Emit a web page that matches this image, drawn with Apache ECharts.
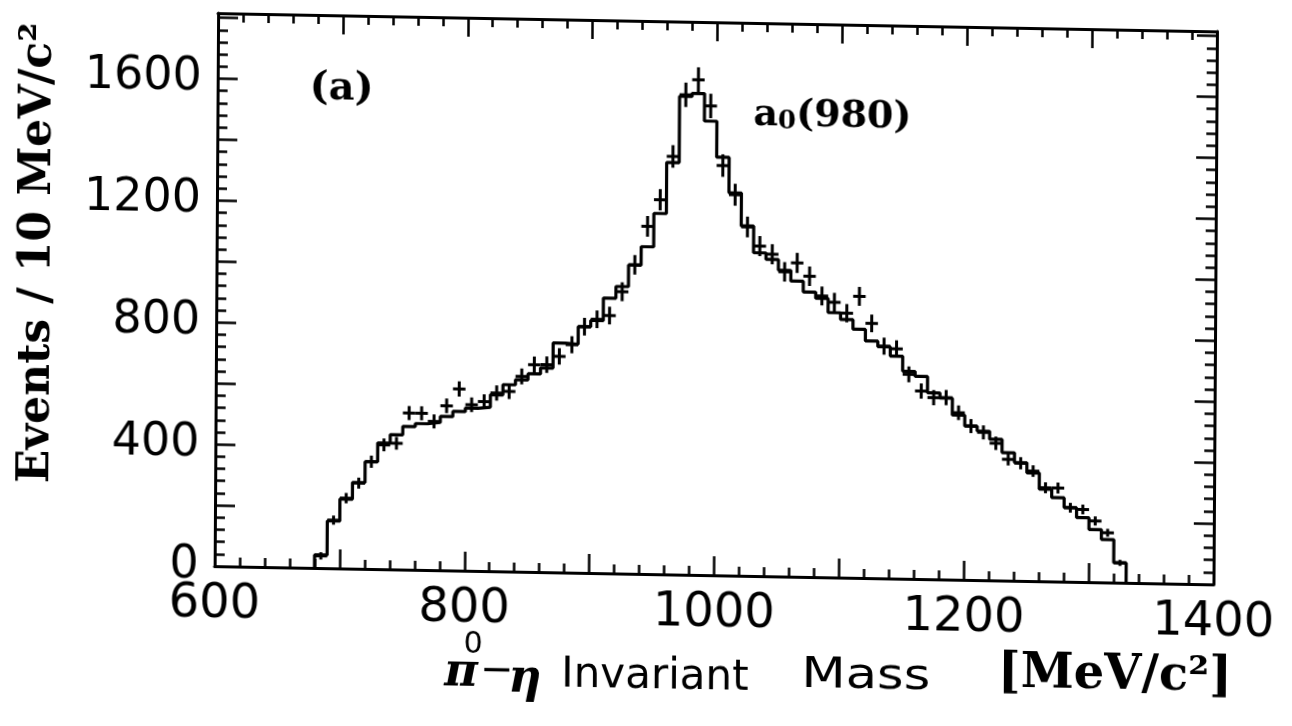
<!DOCTYPE html>
<html>
<head>
<meta charset="utf-8">
<script src="https://cdn.jsdelivr.net/npm/echarts@6/dist/echarts.min.js"></script>
<style>
html,body{margin:0;padding:0;background:#fff;}
#chart{width:1292px;height:726px;transform:matrix(1,0.0183,-0.0063,1,0,0);transform-origin:646px 363px;}
</style>
</head>
<body>
<div id="chart"></div>
<script>
// ---- data ----
const binLowEdges = [680,690,700,710,720,730,740,750,760,770,780,790,800,810,820,830,840,850,860,870,880,890,900,910,920,930,940,950,960,970,980,990,1000,1010,1020,1030,1040,1050,1060,1070,1080,1090,1100,1110,1120,1130,1140,1150,1160,1170,1180,1190,1200,1210,1220,1230,1240,1250,1260,1270,1280,1290,1300,1310,1320];
const binWidth = 10;
const fitCounts = [43,155,228,283,352,414,442,470,480,485,505,522,534,538,579,613,630,650,670,753,750,808,829,903,942,1013,1074,1184,1352,1570,1580,1490,1372,1256,1148,1061,1040,1005,970,935,915,869,847,816,778,760,730,681,665,612,595,540,505,489,463,420,388,355,302,275,243,211,173,141,65];
const dataCounts = [40,158,231,281,352,408,414,514,514,488,540,596,545,556,585,591,641,680,681,709,748,808,833,846,925,1014,1141,1229,1372,1575,1625,1540,1345,1250,1145,1083,1057,1000,1030,987,923,903,868,924,836,762,754,671,617,596,597,548,505,485,450,398,386,361,307,307,243,238,201,163,65];
const dataErrors = [12,15,17,18,20,21,21,23,23,23,24,25,24,24,25,25,26,27,27,27,28,29,29,29,31,32,34,35,37,40,41,40,37,36,34,33,33,32,33,32,31,31,30,31,29,28,28,26,25,25,25,24,23,23,22,20,20,19,18,18,16,16,15,13,10];
const xTickLabels = [600,800,1000,1200,1400];
const yTickLabels = [0,400,800,1200,1600];

// ---- build series data ----
const histData = [[binLowEdges[0], 0]];
binLowEdges.forEach((e, i) => histData.push([e, fitCounts[i]]));
histData.push([binLowEdges[binLowEdges.length - 1] + binWidth, 0]);
const crossData = binLowEdges.map((e, i) => [e, dataCounts[i], dataErrors[i]]);

const chart = echarts.init(document.getElementById('chart'), null, {renderer: 'canvas'});
const black = '#000';
const tickFont = '"DejaVu Sans", sans-serif';
const serif = '"DejaVu Serif", serif';

function xAxisCfg(pos, labels) {
  return {
    type: 'value', position: pos, min: 600, max: 1400, interval: 100,
    axisLine: {show: true, onZero: false, lineStyle: {color: black, width: 3}},
    axisTick: {show: true, inside: true, length: 19, lineStyle: {color: black, width: 2.5}},
    minorTick: {show: true, splitNumber: 5, length: 9, lineStyle: {color: black, width: 2.5}},
    splitLine: {show: false}, minorSplitLine: {show: false},
    axisLabel: {show: labels, margin: 15, color: black, fontFamily: tickFont, fontSize: 48,
      formatter: v => xTickLabels.includes(v) ? String(v) : ''}
  };
}
function yAxisCfg(pos, labels, interval, len, showLine) {
  return {
    type: 'value', position: pos, offset: 0, min: 0, max: 1815, interval: interval,
    axisLine: {show: showLine, onZero: false, lineStyle: {color: black, width: 3}},
    axisTick: {show: true, inside: true, length: len, lineStyle: {color: black, width: 2.5}},
    splitLine: {show: false},
    axisLabel: {show: labels, margin: 16, color: black, fontFamily: tickFont, fontSize: 46,
      formatter: v => yTickLabels.includes(v) ? String(v) : ''}
  };
}

const option = {
  backgroundColor: '#fff',
  animation: false,
  grid: {left: 216, right: 77, top: 21, bottom: 152, containLabel: false},
  xAxis: [xAxisCfg('bottom', true), xAxisCfg('top', false)],
  yAxis: [
    yAxisCfg('left', true, 40, 10, true),
    yAxisCfg('right', false, 40, 10, true),
    yAxisCfg('left', false, 200, 20, false),
    yAxisCfg('right', false, 200, 20, false)
  ],
  series: [
    {
      type: 'line', xAxisIndex: 0, yAxisIndex: 0, step: 'end', data: histData,
      symbol: 'none', lineStyle: {color: black, width: 3.2}, z: 3
    },
    {
      type: 'custom', xAxisIndex: 0, yAxisIndex: 0, data: crossData, z: 4,
      renderItem: function (params, api) {
        const x0 = api.value(0), v = api.value(1), e = api.value(2);
        const pL = api.coord([x0, v]);
        const pR = api.coord([x0 + binWidth, v]);
        const pT = api.coord([x0 + binWidth / 2, v + e]);
        const pB = api.coord([x0 + binWidth / 2, v - e]);
        const st = {stroke: black, lineWidth: 3};
        return {type: 'group', children: [
          {type: 'line', shape: {x1: pL[0], y1: pL[1], x2: pR[0], y2: pR[1]}, style: st},
          {type: 'line', shape: {x1: pT[0], y1: pT[1], x2: pB[0], y2: pB[1]}, style: st}
        ]};
      }
    }
  ],
  graphic: [
    {type: 'text', x: 38, y: 264, rotation: Math.PI / 2,
      style: {text: 'Events / 10 MeV/c²', font: 'bold 44px ' + serif, fill: black, align: 'center', verticalAlign: 'middle'}},
    {type: 'text', x: 340, y: 95,
      style: {text: '(a)', font: 'bold 40px ' + serif, fill: black, align: 'center', verticalAlign: 'middle'}},
    {type: 'text', x: 752, y: 110,
      style: {
        text: '{a|a}{s|0}{a|(980)}', align: 'left', verticalAlign: 'middle',
        rich: {
          a: {font: 'bold 38px ' + serif, fill: black, verticalAlign: 'bottom', lineHeight: 44},
          s: {font: 'bold 26px ' + serif, fill: black, verticalAlign: 'bottom', lineHeight: 38}
        }
      }},
    {type: 'text', x: 463, y: 677,
      style: {text: 'π', font: 'italic bold 46px ' + serif, fill: black, align: 'center', verticalAlign: 'middle'}},
    {type: 'text', x: 475, y: 648,
      style: {text: '0', font: '30px ' + tickFont, fill: black, align: 'center', verticalAlign: 'middle'}},
    {type: 'text', x: 499, y: 675,
      style: {text: '−', font: '40px ' + tickFont, fill: black, align: 'center', verticalAlign: 'middle'}},
    {type: 'text', x: 527, y: 682,
      style: {text: 'η', font: 'italic bold 46px ' + serif, fill: black, align: 'center', verticalAlign: 'middle'}},
    {type: 'text', x: 657, y: 677,
      style: {text: 'Invariant', font: '42px ' + tickFont, fill: black, align: 'center', verticalAlign: 'middle'}},
    {type: 'text', x: 868, y: 673, scaleX: 1.22, originX: 0, originY: 0,
      style: {text: 'Mass', font: '42px ' + tickFont, fill: black, align: 'center', verticalAlign: 'middle'}},
    {type: 'text', x: 1117, y: 668,
      style: {text: '[MeV/c²]', font: 'bold 48px ' + serif, fill: black, align: 'center', verticalAlign: 'middle'}}
  ]
};
chart.setOption(option);
</script>
</body>
</html>
